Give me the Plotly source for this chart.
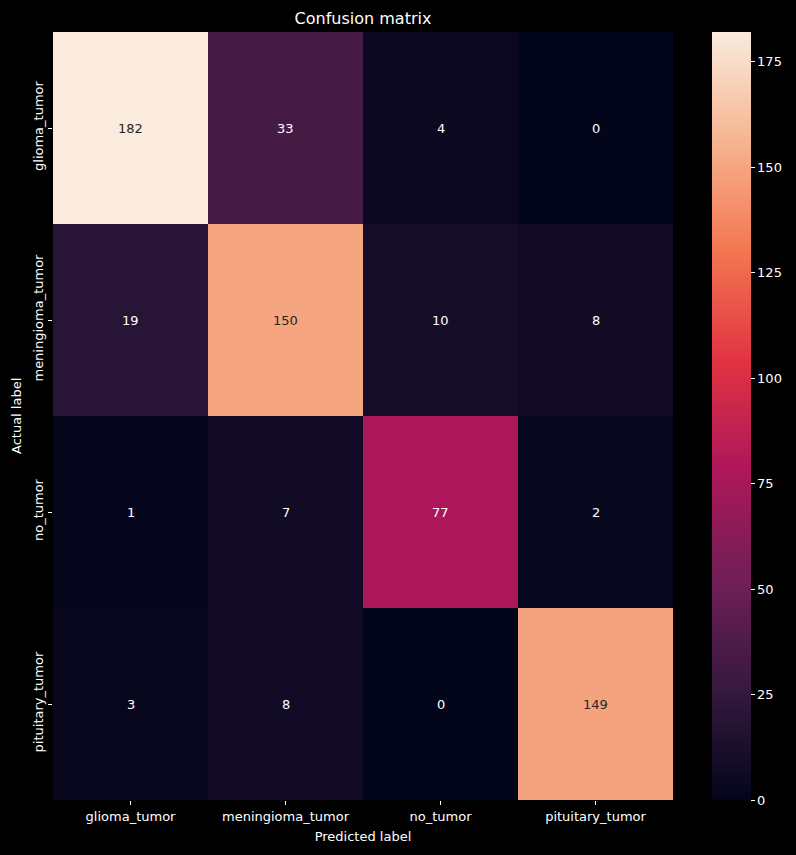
import plotly.graph_objects as go

labels = ["glioma_tumor", "meningioma_tumor", "no_tumor", "pituitary_tumor"]
matrix = [
    [182, 33, 4, 0],
    [19, 150, 10, 8],
    [1, 7, 77, 2],
    [3, 8, 0, 149],
]
cbar_ticks = [0, 25, 50, 75, 100, 125, 150, 175]

rocket = [
    [0.0, "#03051a"],
    [1/7, "#35193e"],
    [2/7, "#701f57"],
    [3/7, "#ad1759"],
    [4/7, "#e13342"],
    [5/7, "#f37651"],
    [6/7, "#f6b48f"],
    [1.0, "#faebdd"],
]

zmax = max(max(r) for r in matrix)
zmin = 0

fig = go.Figure(go.Heatmap(
    z=matrix, x=labels, y=labels,
    colorscale=rocket, zmin=zmin, zmax=zmax,
    xgap=0, ygap=0, hoverinfo="skip",
    colorbar=dict(
        thickness=39, thicknessmode="pixels", len=1.0, lenmode="fraction",
        x=(712 - 53) / 620, xanchor="left", y=0.5, yanchor="middle",
        xpad=0, ypad=0,
        outlinewidth=0, tickvals=cbar_ticks, ticks="outside", ticklen=4,
        tickcolor="white", tickwidth=1,
        tickfont=dict(color="white", size=13, family="DejaVu Sans"),
    ),
))

annotations = []
for i, row in enumerate(matrix):
    for j, v in enumerate(row):
        frac = (v - zmin) / (zmax - zmin)
        color = "#262626" if frac > 0.6 else "white"
        annotations.append(dict(
            x=labels[j], y=labels[i], text=str(v), showarrow=False,
            font=dict(color=color, size=13, family="DejaVu Sans"),
        ))

annotations.append(dict(
    text="Actual label", xref="paper", yref="paper",
    x=(16 - 53) / 620, y=0.5, xanchor="center", yanchor="middle",
    textangle=-90, showarrow=False,
    font=dict(color="white", size=13, family="DejaVu Sans"),
))

fig.update_layout(
    width=796, height=855,
    paper_bgcolor="black", plot_bgcolor="black",
    margin=dict(l=53, r=123, t=32, b=55, pad=0, autoexpand=False),
    annotations=annotations,
    title=dict(text="Confusion matrix", x=(53 + 673) / 2 / 796, xanchor="center",
               y=1 - 18 / 855, yanchor="middle",
               font=dict(color="white", size=16, family="DejaVu Sans")),
    font=dict(family="DejaVu Sans", color="white"),
)
fig.update_xaxes(
    showgrid=False, zeroline=False, showline=False,
    ticks="outside", ticklen=4, tickcolor="white", tickwidth=1,
    tickfont=dict(size=13, color="white"),
    title=dict(text="Predicted label", font=dict(size=13, color="white"), standoff=9),
)
fig.update_yaxes(
    showgrid=False, zeroline=False, showline=False, autorange="reversed",
    ticks="outside", ticklen=4, tickcolor="white", tickwidth=1, tickangle=-90,
    tickfont=dict(size=13, color="white"),
)

fig.write_html("out.html")
